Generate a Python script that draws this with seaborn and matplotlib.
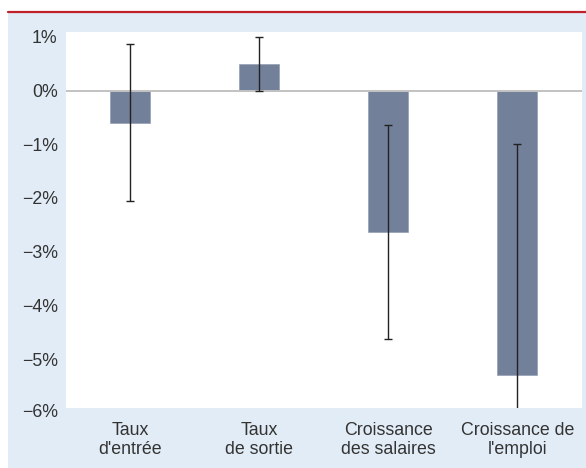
import numpy as np
import pandas as pd
import matplotlib
matplotlib.use('Agg')
import matplotlib.pyplot as plt
from matplotlib.patches import Rectangle
from matplotlib.lines import Line2D
import seaborn as sns

# data (in %)
categories = ["Taux\nd'entrée", "Taux\nde sortie", "Croissance\ndes salaires", "Croissance de\nl'emploi"]
values = [-0.60, 0.49, -2.63, -5.29]
err_low = [-2.06, -0.01, -4.62, -9.58]
err_high = [0.87, 1.00, -0.64, -1.00]
yticks = [-5, -4, -3, -2, -1, 0, 1]

sns.set_style('white')
plt.rcParams['font.family'] = ['Liberation Sans Narrow', 'Liberation Sans', 'DejaVu Sans']
plt.rcParams['axes.unicode_minus'] = True

text_col = '#333333'
panel_col = '#e2ecf6'
bar_col = '#72809a'
fsize = 12.8

fig = plt.figure(figsize=(5.86, 4.68), dpi=100)
fig.patch.set_facecolor('white')

# light blue panel + red rule on top
fig.patches.append(Rectangle((8 / 586, 0), 1, 1 - 13 / 468, transform=fig.transFigure,
                             facecolor=panel_col, edgecolor='none', zorder=-10))
fig.lines.append(Line2D([8 / 586, 1], [1 - 12 / 468, 1 - 12 / 468], transform=fig.transFigure,
                        color='#c0202a', linewidth=1.6, zorder=-5))

ax = fig.add_axes([66 / 586, 60 / 468, 515.7 / 586, 376 / 468])
ax.set_zorder(1)
ax.set_facecolor('white')

df = pd.DataFrame({'cat': categories, 'val': values})
sns.barplot(data=df, x='cat', y='val', color=bar_col, saturation=1, width=0.31,
            errorbar=None, ax=ax, zorder=2, edgecolor='#8a96ad', linewidth=0.4)

ax.axhline(0, color='#c2c2c2', linewidth=1.4, zorder=3)

x = np.arange(len(categories))
vals = np.array(values)
yerr = np.vstack([vals - np.array(err_low), np.array(err_high) - vals])
ax.errorbar(x, vals, yerr=yerr, fmt='none', ecolor='#222222', elinewidth=1.0,
            capsize=2.6, capthick=1.0, zorder=4)

ax.set_xlim(-0.5, len(categories) - 0.5)
ax.set_ylim(-5.91, 1.09)
ax.set_yticks(yticks)
ax.set_yticklabels([f'{t:d}%'.replace('-', '\u2212') for t in yticks])
# the -6% label sits just under the clipped axis bottom
ax.annotate('\u22126%', xy=(0, -6), xycoords=('axes fraction', 'data'),
            xytext=(-8, 0), textcoords='offset pixels', ha='right', va='center',
            fontsize=fsize, color=text_col, annotation_clip=False)

ax.set_xlabel('')
ax.set_ylabel('')
ax.tick_params(axis='both', length=0, labelsize=fsize, colors=text_col)
ax.tick_params(axis='y', pad=6)
ax.tick_params(axis='x', pad=10)
for lbl in ax.get_xticklabels():
    lbl.set_linespacing(1.15)
sns.despine(ax=ax, left=True, bottom=True, top=True, right=True)

fig.savefig('out.png', dpi=100)
